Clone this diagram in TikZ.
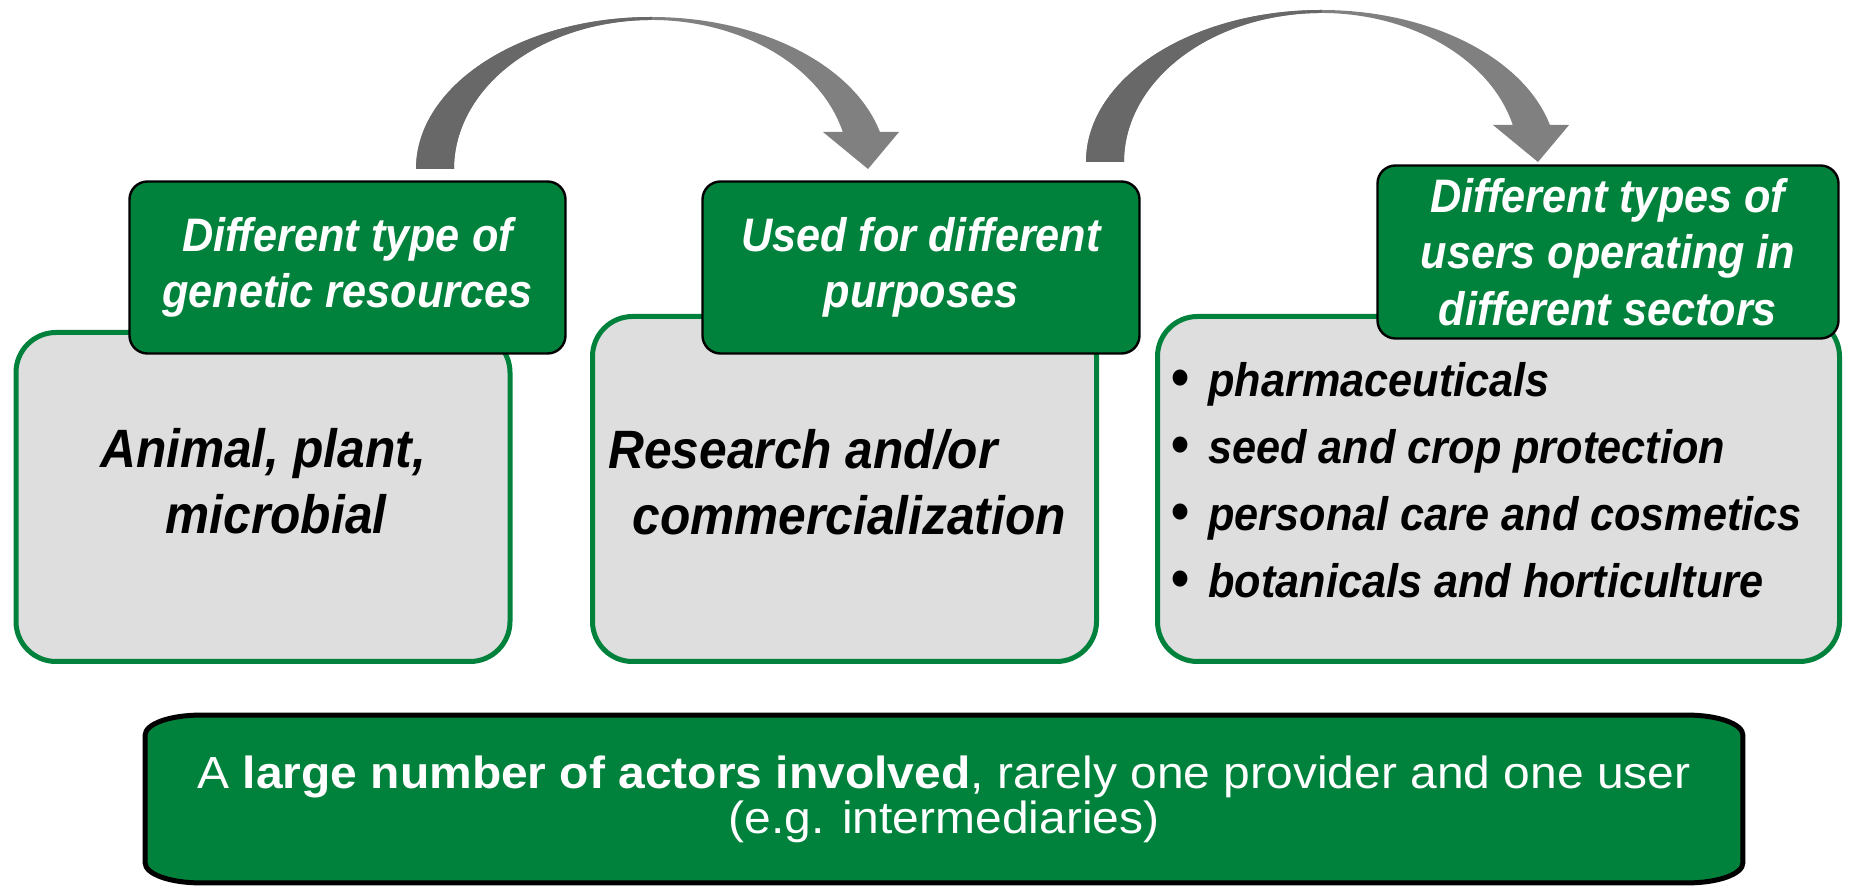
\documentclass[tikz,border=0pt]{standalone}
\usepackage{fontspec}
\setmainfont{Liberation Sans}
\newfontfamily\condfont[FakeStretch=0.92]{Liberation Sans}
\newfontfamily\widefont[FakeStretch=1.066]{Liberation Sans}
\usetikzlibrary{calc,backgrounds}
\definecolor{fgreen}{RGB}{0,130,60}
\definecolor{boxgray}{RGB}{222,222,222}
\definecolor{arrowdark}{RGB}{104,104,104}
\definecolor{arrowlight}{RGB}{128,128,128}
\newcommand{\bul}{\makebox[18.5pt][l]{{\fontsize{28}{0}\selectfont\upshape\textbullet}}}
\tikzset{
  bentarrow/.pic={
    \fill[arrowlight] (-235.5,0) arc[start angle=180,end angle=14.09,x radius=235.5,y radius=152]
      -- (247.5,37) -- (216.5,0) -- (171.5,37) -- (191.3,37)
      arc[start angle=14.38,end angle=180,x radius=197.5,y radius=149] -- cycle;
    \begin{scope}
      \clip (-300,-10) rectangle (0,200);
      \fill[arrowdark] (-235.5,0) arc[start angle=180,end angle=14.09,x radius=235.5,y radius=152]
        -- (247.5,37) -- (216.5,0) -- (171.5,37) -- (191.3,37)
        arc[start angle=14.38,end angle=180,x radius=197.5,y radius=149] -- cycle;
    \end{scope}
  }
}
\begin{document}
\begin{tikzpicture}[x=0.5pt,y=0.5pt,
  graybox/.style={draw=fgreen, fill=boxgray, line width=2.5pt, rounded corners=20pt, inner sep=0pt},
  headbox/.style={draw=black, fill=fgreen, line width=1.2pt, rounded corners=9pt, text=white,
    align=center, inner sep=0pt, font=\condfont\fontsize{23.5}{28.25}\selectfont\bfseries\itshape},
  bigtext/.style={inner sep=0pt, font=\condfont\fontsize{27}{33}\selectfont\bfseries\itshape},
  listtext/.style={inner sep=0pt, align=left, font=\condfont\fontsize{23.5}{33.5}\selectfont\bfseries\itshape},
  bottomtext/.style={inner sep=0pt, align=center, text=white, font=\widefont\fontsize{22.5}{22.5}\selectfont}
]
\useasboundingbox (0,0) rectangle (1849,890);

% gray content boxes
\node[graybox, minimum width=247pt, minimum height=164.5pt] (res) at (263,393) {};
\node[graybox, minimum width=252pt, minimum height=172.5pt] (use) at (844.5,401) {};
\node[graybox, minimum width=341pt, minimum height=172.5pt] (sec) at (1498.5,401) {};

% green headers
\node[headbox, minimum width=218pt, minimum height=86pt] (h1) at (347.5,622.5) {Different type of\\genetic resources};
\node[headbox, minimum width=218.5pt, minimum height=86pt] (h2) at (921,622.5) {Used for different\\purposes};
\node[headbox, minimum width=230.5pt, minimum height=86.5pt] (h3) at (1608,638) {Different types of\\users operating in\\different sectors};

% body texts
\node[bigtext, align=center] (t1) at (263,409) {Animal, plant,\\\hspace*{13pt}microbial};
\node[bigtext, align=left, anchor=west] (t2) at (608,408) {Research and/or\\\hspace*{12pt}commercialization};
\node[listtext, anchor=west] (t3) at (1171,410) {\bul pharmaceuticals\\\bul seed and crop protection\\\bul personal care and cosmetics\\\bul botanicals and horticulture};

% bottom box
\node[bottomtext, minimum width=798.5pt, minimum height=83.5pt] (actors) at (944,91)
  {A \textbf{large number of actors involved}, rarely one provider and one user\\(e.g. intermediaries)};
\begin{scope}[on background layer]
  \draw[fill=fgreen, line width=2.5pt]
    ($(actors.north west)+(55,0)$) -- ($(actors.north east)+(-55,0)$)
    arc[start angle=90,end angle=0,x radius=55,y radius=20]
    -- ($(actors.south east)+(0,20)$)
    arc[start angle=0,end angle=-90,x radius=55,y radius=20]
    -- ($(actors.south west)+(55,0)$)
    arc[start angle=270,end angle=180,x radius=55,y radius=20]
    -- ($(actors.north west)+(0,-20)$)
    arc[start angle=180,end angle=90,x radius=55,y radius=20] -- cycle;
\end{scope}

% curved arrows
\pic at (651.5,721) {bentarrow};
\pic at (1321.5,728) {bentarrow};
\end{tikzpicture}
\end{document}
